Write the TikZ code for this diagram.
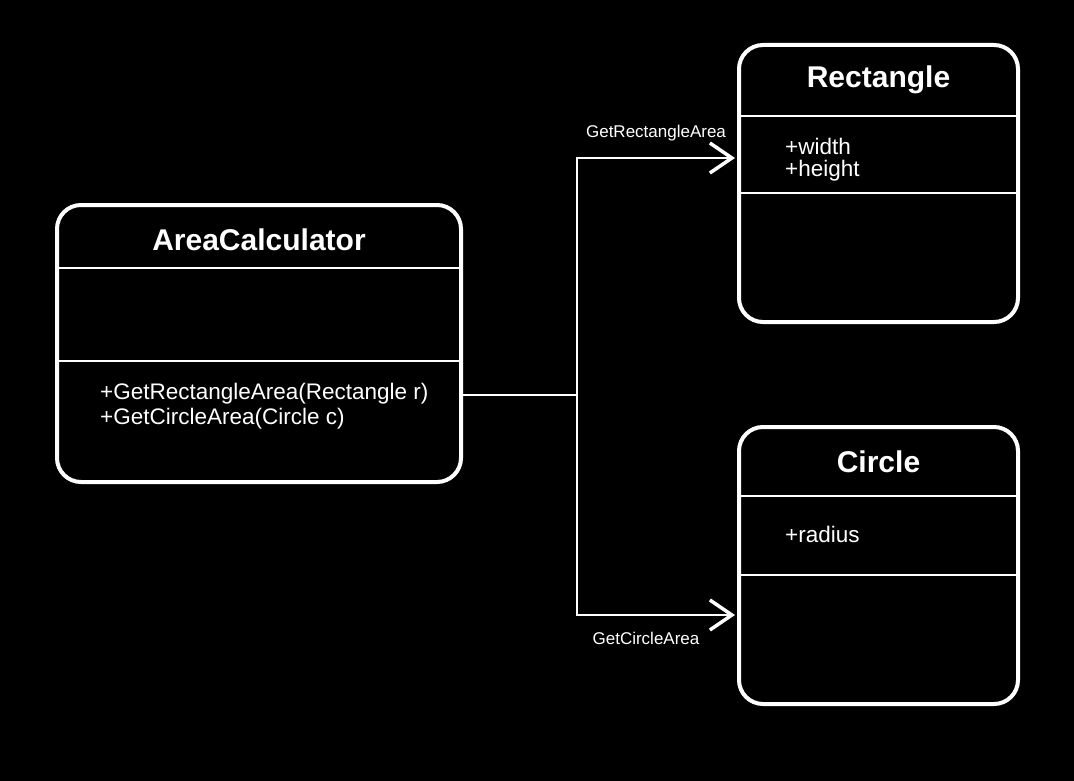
\documentclass[tikz,border=0pt]{standalone}
\usepackage{fontspec}
\setmainfont{Liberation Sans}
\usetikzlibrary{arrows.meta}
\newcommand\colorBackground{black}
\newcommand\colorClass{white}
\newcommand\classHeight{277pt}
\newcommand\classRadius{24pt}
\tikzset{
	classbox/.style={draw=\colorClass, line width=4pt, rounded corners=\classRadius, minimum height=\classHeight, inner sep=0pt, outer sep=0pt, anchor=north west},
	classtitle/.style={text=\colorClass, font=\fontsize{30}{34}\selectfont\bfseries},
	member/.style={text=\colorClass, font=\fontsize{22.5}{26}\selectfont, anchor=west, inner sep=0pt},
	calllabel/.style={text=\colorClass, font=\fontsize{17}{20}\selectfont},
	separator/.style={draw=\colorClass, line width=2.5pt},
	call/.style={draw=\colorClass, line width=2pt, shorten >=4pt, -{Straight Barb[length=22pt,width=30pt,line width=3.5pt]}}
}

\begin{document}
\begin{tikzpicture}[x=1pt, y=-1pt]
	\fill[\colorBackground] (0,0) rectangle (1074,781);
	
	\node[classbox, minimum width=404pt] (areacalc) at (57,205) {};
	\node[classbox, minimum width=279pt] (rect) at (739,45) {};
	\node[classbox, minimum width=279pt] (circ) at (739,427) {};
	
	\foreach \y in {268,361}{
		\draw[separator] (areacalc.west |- 0,\y) to (areacalc.east |- 0,\y);
	}
	\foreach \y in {116,193}{
		\draw[separator] (rect.west |- 0,\y) to (rect.east |- 0,\y);
	}
	\foreach \y in {496,575}{
		\draw[separator] (circ.west |- 0,\y) to (circ.east |- 0,\y);
	}
	
	\node[classtitle] (areacalcTitle) at (areacalc.north |- 0,240) {AreaCalculator};
	\node[classtitle] (rectTitle) at (rect.north |- 0,80) {Rectangle};
	\node[classtitle] (circTitle) at (circ.north |- 0,462) {Circle};
	
	\node[member] (getRect) at (100,394) {+GetRectangleArea(Rectangle r)};
	\node[member] (getCirc) at (100,419) {+GetCircleArea(Circle c)};
	\node[member] (width) at (785,146) {+width};
	\node[member] (height) at (785,171) {+height};
	\node[member] (radius) at (785,534) {+radius};
	
	\coordinate (split) at (577,395);
	\draw[call] (areacalc.east |- split) to (split) |- (rect.west |- 0,158);
	\draw[call] (split) |- (circ.west |- 0,615);
	
	\node[calllabel] (rectCall) at (656,133) {GetRectangleArea};
	\node[calllabel] (circCall) at (646,638) {GetCircleArea};
\end{tikzpicture}
\end{document}
